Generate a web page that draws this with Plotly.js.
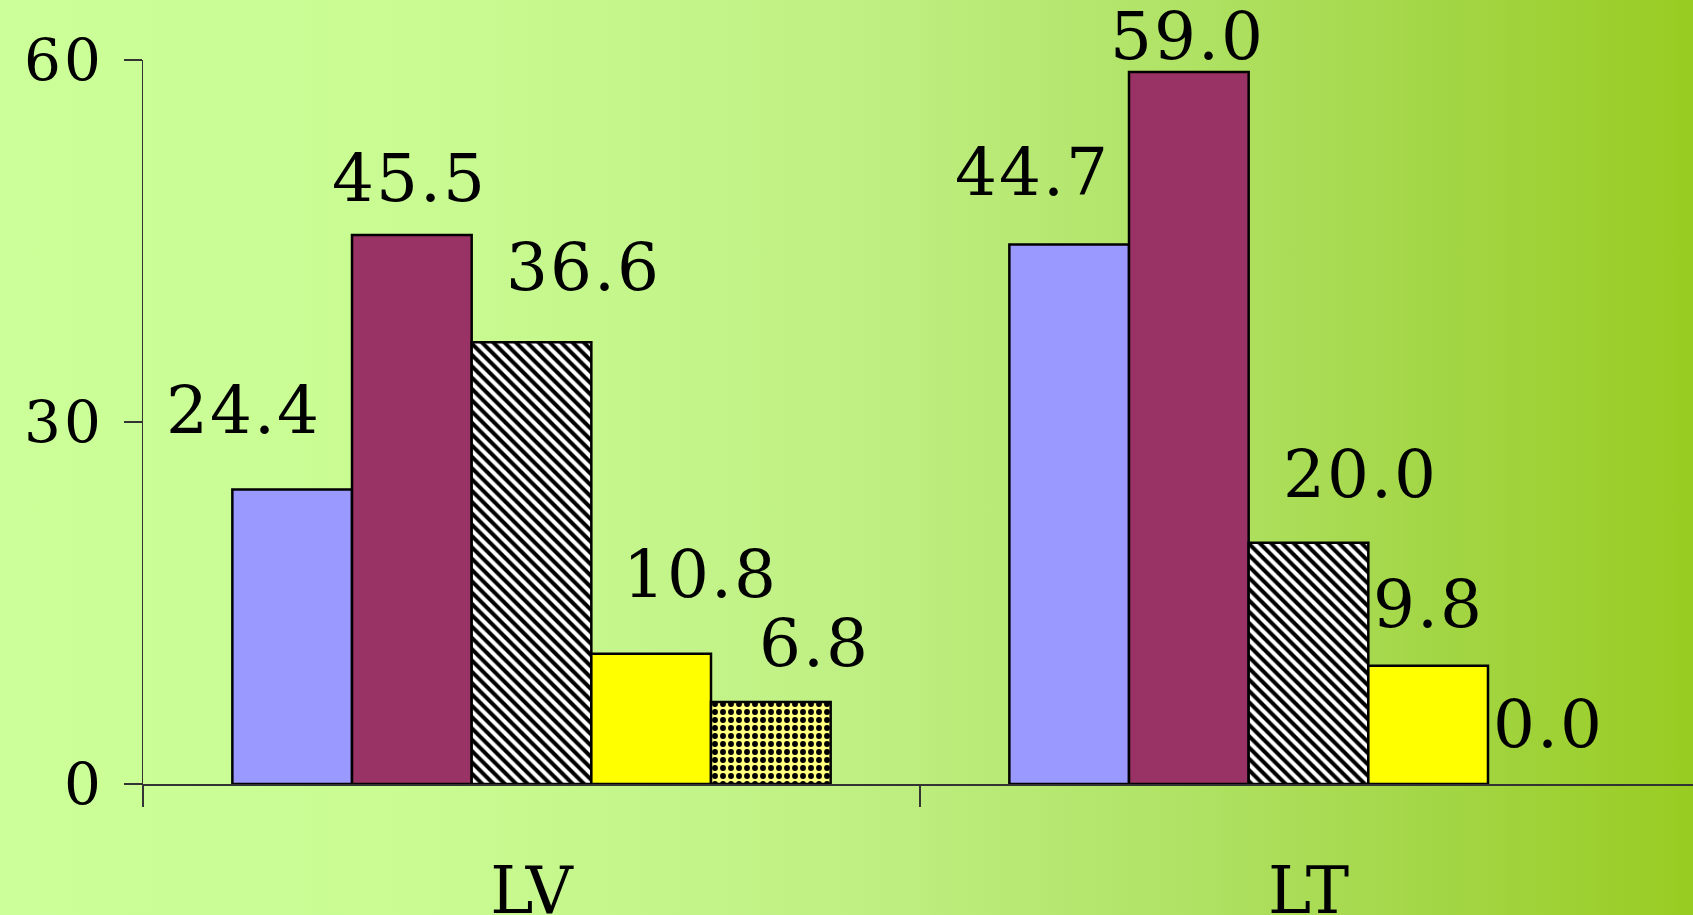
<!DOCTYPE html>
<html>
<head>
<meta charset="utf-8">
<script src="https://cdn.plot.ly/plotly-3.0.1.min.js"></script>
<style>
  html, body { margin: 0; padding: 0; }
  body {
    width: 1693px; height: 915px; overflow: hidden;
    background: linear-gradient(to right, #CCFF99 0%, #C9FB92 25%, #C0F084 50%, #B0E265 70%, #A3D645 85%, #99CC22 100%);
  }
  #chart { width: 1697px; height: 915px; }
  #chart .annotation-text { letter-spacing: 2px; }
  #chart .ytick text { letter-spacing: 3px; }
</style>
</head>
<body>
<div id="chart"></div>
<script>
// Categories and the five series, one value per category
const categories = ['LV', 'LT'];
const series1 = [24.4, 44.7];
const series2 = [45.5, 59.0];
const series3 = [36.6, 20.0];
const series4 = [10.8, 9.8];
const series5 = [6.8, 0.0];
const yTickValues = [0, 30, 60];
const yTickLabels = ['0', '30', '60'];

const allSeries = [series1, series2, series3, series4, series5];

// Per-bar label nudges [dx, gap above bar top] in pixels, per category
const labelNudge = [
  [[-49, 56], [-37, 49]],
  [[-2, 33], [-1, 12]],
  [[52, 51], [52, 45]],
  [[49, 56], [0, 38]],
  [[44, 35], [1, 36]]
];

const FONT = 'DejaVu Serif';
const bargap = 0.23;
const barSlot = (1 - bargap) / allSeries.length;

// Outline only where a bar has height
const outline = vals => ({ color: '#000', width: vals.map(v => (v > 0 ? 2.5 : 0)) });

const markers = [
  { color: '#9999FF', line: outline(series1) },
  { color: '#993366', line: outline(series2) },
  { color: '#FFFFFF', line: outline(series3),
    pattern: { shape: '\\', fgcolor: '#000000', bgcolor: '#FFFFFF', size: 8, solidity: 0.5, fillmode: 'replace' } },
  { color: '#FFFF00', line: outline(series4) },
  { color: '#FFFF80', line: outline(series5),
    pattern: { shape: '.', fgcolor: '#000000', bgcolor: '#FFFF80', size: 8, solidity: 0.42, fillmode: 'replace' } }
];

const traces = allSeries.map((vals, i) => ({
  type: 'bar',
  x: categories,
  y: vals,
  marker: markers[i],
  hoverinfo: 'skip',
  showlegend: false
}));

// Value labels placed over each bar, using the bar's own value
const annotations = [];
allSeries.forEach((vals, i) => {
  vals.forEach((v, c) => {
    const [dx, gap] = labelNudge[i][c];
    annotations.push({
      xref: 'x', yref: 'y',
      x: c + (i - (allSeries.length - 1) / 2) * barSlot,
      y: v,
      text: v.toFixed(1),
      showarrow: false,
      xanchor: 'center', yanchor: 'bottom',
      xshift: dx, yshift: gap - 17,
      font: { family: FONT, size: 66, color: '#000' }
    });
  });
});

const layout = {
  width: 1697, height: 915,
  margin: { l: 143, r: 0, t: 60, b: 131, pad: 0 },
  paper_bgcolor: 'rgba(0,0,0,0)',
  plot_bgcolor: 'rgba(0,0,0,0)',
  barmode: 'group',
  bargap: bargap,
  bargroupgap: 0,
  showlegend: false,
  font: { family: FONT, color: '#000' },
  xaxis: {
    type: 'category',
    showgrid: false, zeroline: false,
    showline: true, linecolor: '#333', linewidth: 1.5,
    ticks: 'outside', tickson: 'boundaries', ticklen: 21, tickcolor: '#333', tickwidth: 1.5,
    ticklabelstandoff: 49,
    tickfont: { family: FONT, size: 65, color: '#000' }
  },
  yaxis: {
    range: [0, 60],
    tickvals: yTickValues, ticktext: yTickLabels,
    showgrid: false, zeroline: false,
    showline: true, linecolor: '#333', linewidth: 1.5,
    ticks: 'outside', ticklen: 18, tickcolor: '#333', tickwidth: 1.5,
    ticklabelstandoff: 8,
    tickfont: { family: FONT, size: 58, color: '#000' }
  },
  annotations: annotations
};

Plotly.newPlot('chart', traces, layout, { displayModeBar: false, staticPlot: true });
</script>
</body>
</html>
